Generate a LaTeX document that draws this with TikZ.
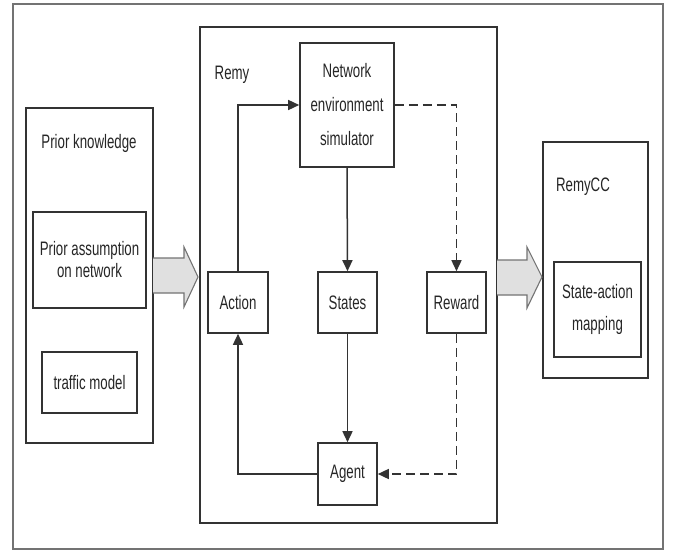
\documentclass[tikz,border=0pt]{standalone}
\usepackage{fontspec}
\setmainfont{Liberation Sans}[FakeStretch=0.68]
\usetikzlibrary{arrows.meta}
\begin{document}
\begin{tikzpicture}[x=1pt,y=-1pt,
  box/.style={draw=black!80,line width=1.6pt,fill=white,inner sep=0pt,align=center,
    font=\fontsize{19.5}{23}\selectfont,text=black!85},
  lbl/.style={inner sep=0pt,font=\fontsize{19.5}{23}\selectfont,text=black!85},
  conn/.style={draw=black!80,line width=1.5pt,-{Triangle[length=11pt,width=10pt]}},
  dconn/.style={conn,dash pattern=on 9pt off 5pt},
  hollow/.style={draw=black!55,line width=1.1pt,fill=black!12,line join=miter}]
\useasboundingbox (0,0) rectangle (677,552);
\draw[black!55,line width=1.3pt] (13,4) rectangle (663,549);
% left group
\node[box,minimum width=127pt,minimum height=335pt] (pk) at (89.5,275.5) {};
\node[lbl] (pkl) at (89,143) {Prior knowledge};
\node[box,minimum width=113pt,minimum height=96pt] (pa) at (89.5,260)
  {Prior assumption\\[-1pt]on network};
\node[box,minimum width=95pt,minimum height=61pt] (tm) at (89.5,382.5) {traffic model};
% Remy
\node[box,minimum width=297pt,minimum height=496pt] (remy) at (348.5,275) {};
\node[lbl] (remyl) at (232,75) {Remy};
\node[box,minimum width=94pt,minimum height=124pt] (nes) at (347,105)
  {Network\\[11pt]environment\\[11pt]simulator};
\node[box,minimum width=60pt,minimum height=61pt] (action) at (238,302.5) {Action};
\node[box,minimum width=59pt,minimum height=61pt] (states) at (347.5,302.5) {States};
\node[box,minimum width=59pt,minimum height=61pt] (reward) at (456.5,302.5) {Reward};
\node[box,minimum width=59pt,minimum height=62pt] (agent) at (347.5,474) {Agent};
% RemyCC
\node[box,minimum width=105pt,minimum height=236pt] (remycc) at (595.5,260) {};
\node[lbl] (remyccl) at (583,187) {RemyCC};
\node[box,minimum width=87pt,minimum height=95pt,line width=1.2pt] (sam) at (597.5,309.5)
  {State-action\\[9pt]mapping};
% connectors
\draw[conn] (action.north) |- (nes.west);
\draw[dconn] (nes.east) -| (reward.north);
\draw[conn] (nes.south) -- (states.north);
\draw[conn] (states.south) -- (agent.north);
\draw[dconn] (reward.south) |- (agent.east);
\draw[conn] (agent.west) -| (action.south);
% hollow arrows
\draw[hollow] (153,258) -- (184,258) -- (184,247) -- (198,277) -- (184,307) -- (184,293) -- (153,293);
\draw[hollow] (497,260) -- (527,260) -- (527,247) -- (542,277) -- (527,308) -- (527,295) -- (497,295);
\end{tikzpicture}
\end{document}
